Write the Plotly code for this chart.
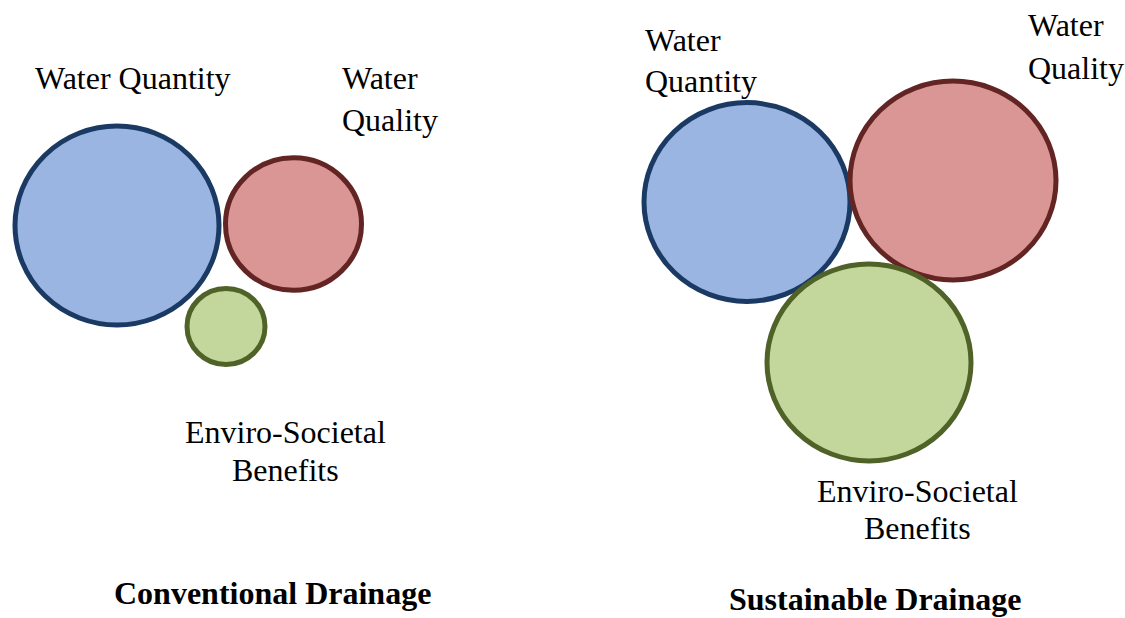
import plotly.graph_objects as go

# ---- data ----
panels = ["Conventional Drainage", "Sustainable Drainage"]
categories = ["Water Quantity", "Water Quality", "Enviro-Societal Benefits"]
# relative circle sizes (radius, px) per panel, in category order
conventional_radius = [102, 68, 39]
sustainable_radius = [103, 103, 102]

# ---- layout (positions in px of a 1125x618 canvas) ----
W, H = 1125, 618
centers = {
    "Conventional Drainage": [(117, 225.5), (293.5, 224), (226, 326.5)],
    "Sustainable Drainage": [(747, 202), (953, 180.5), (869, 362.5)],
}
fills = ["#9AB5E2", "#D99694", "#C3D69B"]
edges = ["#1B3A63", "#632523", "#4F6228"]
FONT = "Liberation Serif"
FS = 32

# label lines: (text, x, baseline, xanchor)
label_lines = {
    "Conventional Drainage": [
        [("Water Quantity", 33, 89, "left")],
        [("Water", 340, 89, "left"), ("Quality", 340, 131, "left")],
        [("Enviro-Societal", 285.5, 443, "center"), ("Benefits", 285.5, 481, "center")],
    ],
    "Sustainable Drainage": [
        [("Water", 643, 51, "left"), ("Quantity", 643, 92, "left")],
        [("Water", 1026, 36, "left"), ("Quality", 1026, 79, "left")],
        [("Enviro-Societal", 917.5, 502, "center"), ("Benefits", 917.5, 539, "center")],
    ],
}
title_pos = {"Conventional Drainage": (272.5, 604), "Sustainable Drainage": (875, 610)}

fig = go.Figure()
fig.add_trace(go.Scatter(x=[0, W], y=[0, H], mode="markers",
                         marker=dict(opacity=0), hoverinfo="skip", showlegend=False))

radii = {"Conventional Drainage": conventional_radius, "Sustainable Drainage": sustainable_radius}
shapes = []
annotations = []
for p in panels:
    for i, cat in enumerate(categories):
        cx, cy = centers[p][i]
        r = radii[p][i]
        ry = r * (0.965 if p == "Sustainable Drainage" else 0.975)
        shapes.append(dict(type="circle", xref="x", yref="y",
                           x0=cx - r, x1=cx + r, y0=cy - ry, y1=cy + ry,
                           fillcolor=fills[i], line=dict(color=edges[i], width=5),
                           layer="above"))
        for (txt, x, base, anc) in label_lines[p][i]:
            annotations.append(dict(text=txt, x=x, y=base - 11, xref="x", yref="y",
                                    xanchor=anc, yanchor="middle", showarrow=False,
                                    font=dict(family=FONT, size=FS, color="#000000")))
    tx, tb = title_pos[p]
    annotations.append(dict(text="<b>" + p + "</b>", x=tx, y=tb - 11, xref="x", yref="y",
                            xanchor="center", yanchor="middle", showarrow=False,
                            font=dict(family=FONT, size=FS, color="#000000")))

fig.update_layout(
    width=W, height=H, margin=dict(l=0, r=0, t=0, b=0),
    paper_bgcolor="white", plot_bgcolor="white",
    xaxis=dict(range=[0, W], visible=False, fixedrange=True, domain=[0, 1]),
    yaxis=dict(range=[H, 0], visible=False, fixedrange=True, domain=[0, 1]),
    shapes=shapes, annotations=annotations, showlegend=False,
)
fig.write_html(
    "out.html",
    config={"displayModeBar": False},
    post_script="document.body.style.margin='0';document.body.style.overflow='hidden';",
)
